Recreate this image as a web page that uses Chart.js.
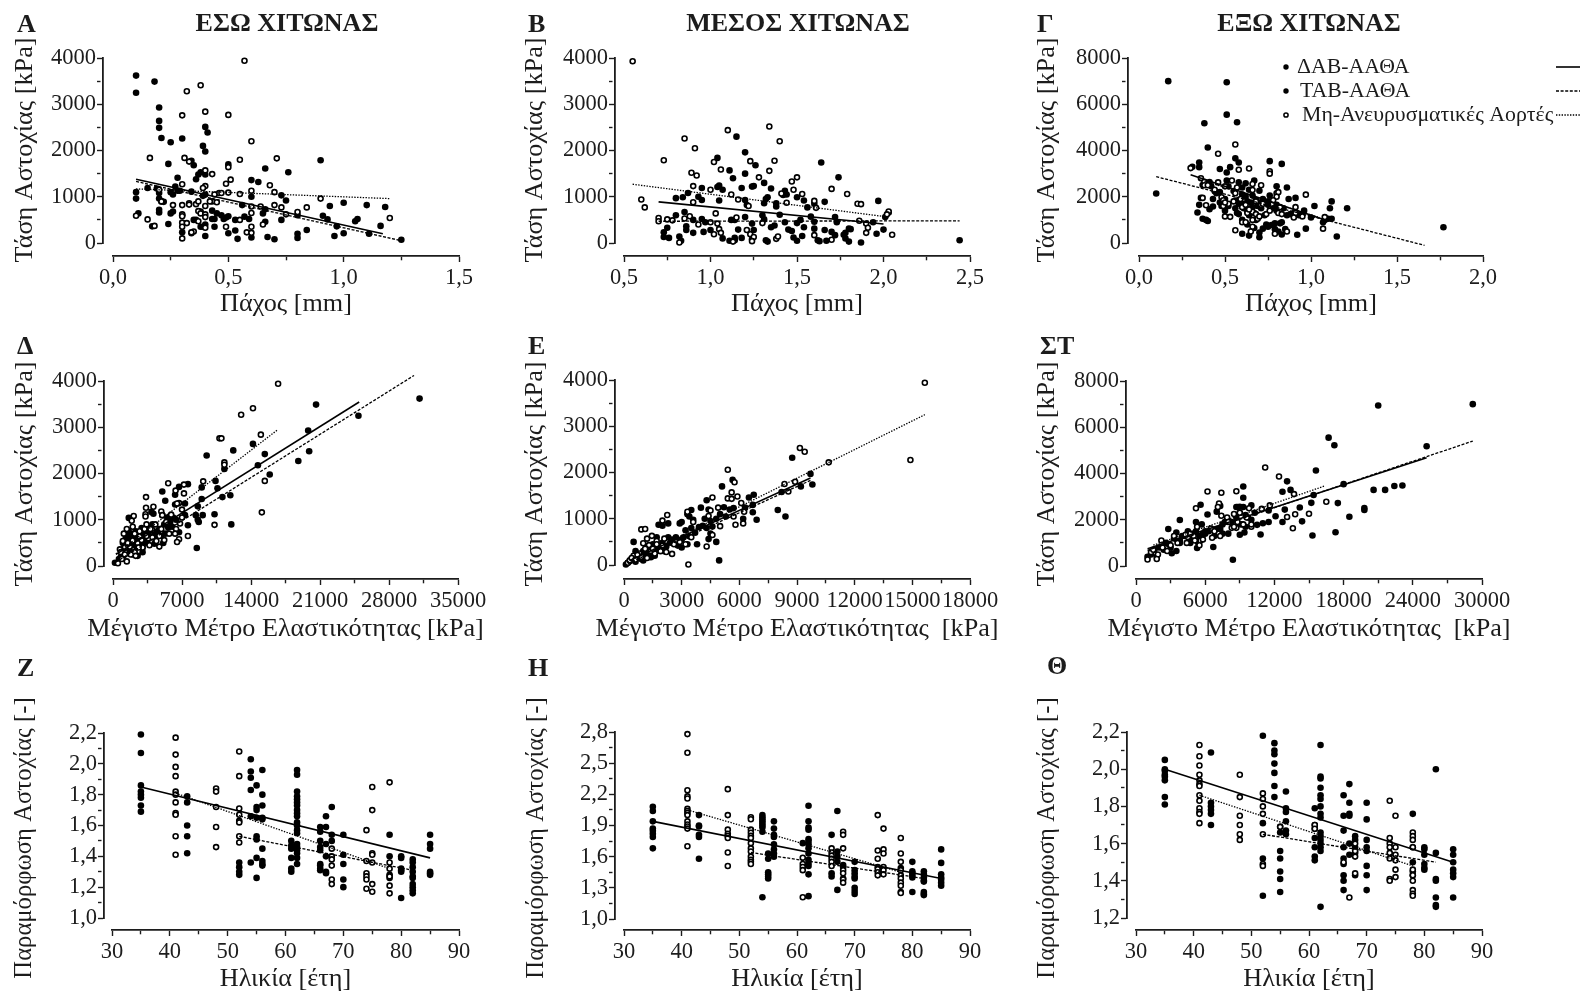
<!DOCTYPE html>
<html lang="el">
<head>
<meta charset="utf-8">
<title>Αντοχή αορτικού τοιχώματος</title>
<script src="https://cdn.jsdelivr.net/npm/chart.js@4/dist/chart.umd.js"></script>
<style>
  html, body { margin: 0; padding: 0; background: #fff; overflow: hidden; }
  #page { position: relative; width: 1583px; height: 991px; }
  canvas { position: absolute; }
</style>
</head>
<body>
<div id="page"></div>
<script>
// ΔΑΒ and ΤΑΒ dots look the same in the picture, so they are kept together as "filled"
const seriesNames = ['ΔΑΒ-ΑΑΘΑ', 'ΤΑΒ-ΑΑΘΑ', 'Μη-Ανευρυσματικές Αορτές'];

// A: inner layer, thickness vs stress
const innerThickFilled = [[0.10,3620],[0.10,3250],[0.18,3490],[0.20,2930],[0.20,2640],[0.20,2490],[0.21,2270],[0.25,2180],[0.30,2260],[0.24,1710],[0.34,1780],[0.35,1680],[0.36,1380],[0.37,1480],[0.38,1530],[0.28,1410],[0.27,1220],[0.25,1100],[0.26,1050],[0.28,1130],[0.29,1130],[0.34,1110],[0.10,1100],[0.10,960],[0.15,1190],[0.19,1180],[0.20,1080],[0.20,960],[0.21,900],[0.22,890],[0.20,720],[0.20,660],[0.11,640],[0.17,360],[0.24,410],[0.25,640],[0.26,680],[0.30,600],[0.30,230],[0.34,210],[0.35,500],[0.36,500],[0.38,350],[0.39,350],[0.40,400],[0.40,150],[0.39,2100],[0.40,1980],[0.40,2510],[0.41,2390],[0.40,1480],[0.40,1050],[0.39,1020],[0.43,700],[0.43,520],[0.44,520],[0.45,640],[0.44,350],[0.47,600],[0.48,520],[0.49,550],[0.50,580],[0.50,1700],[0.50,210],[0.53,500],[0.53,270],[0.54,90],[0.56,820],[0.57,570],[0.59,520],[0.60,1360],[0.60,1000],[0.60,120],[0.63,1320],[0.65,640],[0.66,1610],[0.66,730],[0.66,460],[0.67,130],[0.70,80],[0.73,1030],[0.75,920],[0.76,1530],[0.73,500],[0.80,600],[0.80,200],[0.80,110],[0.84,280],[0.90,1790],[0.91,590],[0.93,510],[0.94,800],[0.97,360],[0.96,150],[1.00,870],[1.00,210],[1.05,470],[1.06,520],[1.10,820],[1.11,200],[1.16,370],[1.18,780],[1.25,70]];
const innerThickOpen = [[0.57,3940],[0.38,3410],[0.32,3280],[0.40,2840],[0.30,2760],[0.50,2770],[0.60,2200],[0.16,1840],[0.31,1840],[0.33,1760],[0.55,1800],[0.71,1830],[0.40,1570],[0.50,1640],[0.43,1490],[0.51,1370],[0.49,1280],[0.30,1270],[0.40,1230],[0.39,1190],[0.60,1130],[0.68,1250],[0.70,1100],[0.55,1060],[0.50,1090],[0.46,1080],[0.47,1080],[0.90,960],[0.20,1150],[0.21,900],[0.26,820],[0.30,820],[0.33,860],[0.33,830],[0.36,840],[0.37,900],[0.43,900],[0.45,880],[0.40,800],[0.60,790],[0.64,790],[0.70,820],[0.73,770],[0.84,770],[0.80,670],[0.75,620],[0.60,650],[0.38,680],[0.37,690],[0.38,640],[0.40,620],[0.10,590],[0.30,620],[0.30,580],[0.15,510],[0.30,440],[0.32,430],[0.37,470],[0.40,560],[0.30,350],[0.18,370],[0.30,100],[0.35,250],[0.34,230],[0.40,330],[0.49,350],[0.55,500],[0.58,230],[0.60,350],[0.60,220],[0.65,400],[1.20,540],[0.44,1050],[0.42,900]];
const innerThickLines = [[[0.10,1380],[1.17,200]], [[0.10,1330],[1.25,50]], [[0.10,1170],[1.20,960]]];

// B: media, thickness vs stress
const mediaThickFilled = [[1.15,2300],[1.20,1960],[1.04,1840],[1.11,1570],[1.20,1500],[1.13,1400],[1.26,1680],[1.64,1740],[1.74,1420],[1.05,1240],[1.04,1210],[1.07,1150],[0.95,1190],[1.18,1190],[1.24,1220],[1.25,1230],[1.31,1300],[1.35,1180],[1.43,1130],[1.44,1050],[1.42,1040],[0.87,1080],[0.80,970],[0.84,990],[0.93,1000],[0.95,930],[1.05,920],[1.20,930],[1.21,820],[1.32,950],[1.33,990],[1.31,860],[1.38,860],[1.38,790],[1.50,990],[1.54,920],[1.56,770],[1.60,850],[1.66,890],[1.97,910],[2.03,660],[2.01,560],[0.80,600],[0.85,670],[0.90,500],[0.95,520],[0.97,450],[1.00,280],[0.73,230],[0.73,130],[0.75,330],[0.76,110],[0.82,140],[0.83,50],[0.86,360],[0.86,280],[0.90,220],[0.96,240],[1.07,100],[1.11,50],[1.14,110],[1.14,60],[1.16,290],[1.18,110],[1.20,560],[1.12,500],[1.14,500],[1.24,420],[1.25,280],[1.24,80],[1.30,600],[1.31,510],[1.32,60],[1.33,30],[1.35,340],[1.37,380],[1.40,610],[1.43,450],[1.45,290],[1.47,260],[1.48,120],[1.50,430],[1.50,50],[1.52,500],[1.53,150],[1.54,340],[1.58,570],[1.60,310],[1.60,460],[1.62,60],[1.63,40],[1.66,280],[1.67,50],[1.70,240],[1.72,170],[1.72,560],[1.73,450],[1.77,180],[1.78,220],[1.78,100],[1.80,310],[1.81,300],[1.80,30],[1.87,10],[1.96,200],[2.00,290],[1.94,450],[2.44,60]];
const mediaThickOpen = [[0.55,3930],[1.34,2520],[1.10,2440],[0.85,2260],[1.40,2200],[0.91,2050],[0.73,1790],[1.02,1750],[1.23,1770],[1.37,1780],[1.06,1590],[0.89,1520],[0.92,1460],[1.34,1560],[1.28,1420],[1.50,1420],[1.47,1330],[0.90,1230],[1.00,1150],[1.48,1150],[1.53,1060],[1.70,1170],[1.79,1060],[1.41,1070],[1.12,1050],[1.16,940],[0.90,880],[0.60,940],[0.62,770],[1.44,870],[1.22,800],[1.60,910],[1.61,760],[1.85,850],[1.87,840],[2.03,680],[2.02,620],[1.03,640],[0.70,540],[0.70,470],[0.75,510],[0.85,530],[0.88,580],[0.78,490],[0.93,400],[1.00,450],[1.04,420],[1.05,300],[1.06,220],[1.02,190],[1.15,550],[1.21,280],[1.23,190],[1.30,430],[1.25,130],[1.38,90],[1.39,140],[1.60,170],[1.70,70],[1.86,480],[1.90,420],[1.91,330],[1.90,220],[2.05,180],[0.82,10],[1.13,30],[1.24,40]];
const mediaThickLines = [[[0.70,890],[2.00,410]], [[0.70,470],[2.44,480]], [[0.55,1270],[2.03,560]]];

// Γ: outer layer, thickness vs stress
const outerThickFilled = [[0.17,7000],[0.51,6950],[0.51,5550],[0.57,5220],[0.38,5180],[0.40,4130],[0.56,3660],[0.58,3480],[0.35,3480],[0.35,3280],[0.31,3300],[0.47,3200],[0.53,3280],[0.51,3050],[0.76,3540],[0.83,3420],[0.10,2140],[0.37,2510],[0.41,2640],[0.44,2240],[0.43,1900],[0.36,1950],[0.35,1650],[0.34,1320],[0.37,1050],[0.39,1000],[0.40,950],[0.41,1460],[0.43,1580],[0.48,1600],[0.50,1900],[0.51,2700],[0.52,2450],[0.50,1400],[0.52,1600],[0.56,1840],[0.58,2630],[0.60,2400],[0.62,2580],[0.60,1700],[0.60,2100],[0.63,1800],[0.65,1500],[0.67,2700],[0.66,2050],[0.68,1850],[0.70,2260],[0.72,1900],[0.75,1800],[0.76,2050],[0.80,2450],[0.86,2400],[0.87,1900],[0.91,1950],[0.96,1400],[0.90,1300],[1.02,1600],[1.12,1800],[1.11,1500],[1.21,1500],[1.12,1050],[1.10,1050],[1.07,900],[0.97,620],[1.15,280],[0.92,360],[0.83,370],[0.85,600],[0.82,850],[0.79,600],[0.77,780],[0.72,620],[0.70,250],[0.70,450],[0.64,320],[0.60,400],[0.57,1300],[0.58,1250],[0.63,1350],[0.66,1550],[0.68,1000],[0.83,900],[0.86,1200],[0.80,1400],[0.75,1650],[1.77,680],[0.45,2150],[0.47,1750],[0.55,2250],[0.56,1500],[0.58,1700],[0.61,1500],[0.62,2000],[0.64,1200],[0.64,2300],[0.65,1750],[0.67,1300],[0.69,1600],[0.70,1750],[0.71,1500],[0.73,1200],[0.74,800],[0.78,1500],[0.80,1650],[0.81,500],[0.84,1500],[0.88,1250],[0.93,1200],[0.95,1250],[1.00,1100],[1.08,1000],[0.60,1000],[0.63,800],[0.67,650],[0.75,700],[0.79,850],[0.42,2450],[0.47,2200]];
const outerThickOpen = [[0.56,4260],[0.46,3860],[0.58,3170],[0.64,3220],[0.30,3240],[0.76,3100],[0.76,3000],[0.36,2800],[0.38,2650],[0.38,2500],[0.46,2620],[0.50,2450],[0.54,2700],[0.57,2400],[0.66,2550],[0.71,2500],[0.66,2290],[0.97,2090],[0.80,2150],[0.81,2200],[0.80,2000],[0.37,1950],[0.48,1980],[0.39,1630],[0.49,1850],[0.52,1700],[0.49,1600],[0.50,1150],[0.53,1130],[0.56,2150],[0.60,1550],[0.63,1300],[0.66,1350],[0.71,1650],[0.74,1250],[0.76,1400],[0.81,1300],[0.83,1250],[0.91,1550],[0.91,1300],[0.90,1100],[0.95,1150],[0.68,1250],[0.66,1000],[0.60,900],[0.62,900],[0.69,1050],[0.56,550],[0.66,700],[0.65,500],[0.79,400],[0.86,500],[1.07,620],[1.08,1120],[0.40,2500],[0.44,2300],[0.50,1750],[0.55,1800],[0.59,1900],[0.62,1650],[0.64,1450],[0.68,1800],[0.70,1150],[0.72,1700],[0.78,1850],[0.82,1550]];
const outerThickLines = [[[0.30,2950],[1.10,950]], [[0.10,2870],[1.66,-100]], [[0.35,2750],[1.05,1100]]];

// Δ: inner layer, max modulus vs stress
const innerModFilled = [[31100,3620],[24900,3250],[20600,3490],[19800,2930],[19900,2480],[18800,2270],[14200,2640],[15400,2420],[14700,2180],[15900,1980],[12200,2500],[9500,2390],[11300,2100],[10400,1840],[10600,1680],[11100,1490],[11900,1530],[12000,900],[10300,1120],[9000,1450],[9000,1700],[7600,1770],[6700,1710],[6300,1540],[5000,1610],[5300,1410],[8600,1290],[8400,1100],[8600,1000],[9100,1100],[8700,950],[7300,1100],[7300,1350],[6300,1330],[7600,880],[8500,390],[1600,1040],[3900,1170],[5000,1100],[4100,1130],[5500,1050],[6100,1050],[5200,900],[5600,830],[6700,730],[5100,500],[1300,600],[1500,650],[1800,580],[2000,690],[2200,500],[2500,600],[2800,680],[3000,620],[3300,580],[3500,830],[4200,730],[4500,650],[4700,800],[1000,500],[1300,450],[1700,330],[2000,250],[2500,220],[3000,400],[3500,500],[4200,480],[200,70],[800,200],[1100,380],[600,150],[900,300],[1200,550],[1500,400],[1600,750],[1900,450],[2100,600],[2300,750],[2400,400],[2700,500],[2900,820],[3100,500],[3300,700],[3600,700],[3800,620],[4000,900],[4300,600],[4600,750],[4900,650],[5300,700],[5800,950],[6000,850],[6400,1000],[3000,300],[1000,200]];
const innerModOpen = [[16750,3940],[14200,3410],[13000,3270],[15000,2840],[10800,2760],[11000,2760],[11300,2240],[11300,2190],[9150,1830],[5600,1790],[7200,1760],[7200,1570],[6350,1630],[15400,1840],[15100,1160],[10300,890],[7600,650],[3350,1490],[3350,1260],[4100,1280],[3300,1120],[3300,1070],[2100,1080],[4900,1180],[6700,1360],[6500,1350],[7000,1220],[5000,1100],[1400,800],[1900,980],[2000,850],[2700,750],[3200,800],[3400,900],[3600,600],[4000,620],[4400,540],[4700,420],[5200,560],[5700,700],[6400,800],[6700,580],[6500,520],[6300,700],[6800,920],[7000,1050],[5900,1110],[4900,800],[1000,540],[700,360],[800,300],[1200,250],[1400,100],[500,60],[1700,420],[2000,550],[2200,300],[2300,220],[2500,500],[3000,400],[2700,640],[3700,450],[4000,780],[1200,400],[900,150],[1100,700],[1500,500],[1800,250],[2200,700],[2600,400],[2900,560],[3400,650],[3800,800],[4300,900],[4700,650],[5400,950]];
const innerModLines = [[[300,250],[24975,3545]], [[300,85],[30540,4120]], [[300,260],[16670,2940]]];

// E: media, max modulus vs stress
const mediaModFilled = [[8750,2320],[9700,1970],[9800,1740],[9200,1700],[8200,1580],[8000,1190],[8400,1050],[6900,980],[6700,1140],[6700,1300],[6750,1520],[6500,1460],[5650,1840],[5100,1700],[4300,1400],[4000,1240],[3500,1190],[3300,1100],[5200,1250],[5700,1230],[6300,1240],[6200,1000],[4400,1200],[3000,930],[2900,900],[3400,1050],[3600,980],[4100,850],[4300,800],[4500,950],[4800,1000],[3500,800],[3200,750],[2000,850],[1800,870],[2300,900],[4500,680],[4800,500],[4950,100],[4400,560],[3800,450],[3000,550],[3000,380],[3300,450],[2400,480],[2200,400],[1700,600],[1500,450],[1700,300],[1300,250],[1000,300],[500,500],[800,150],[100,10],[200,50],[300,80],[600,70],[1000,100],[1400,170],[1900,350],[2300,600],[400,120],[700,200],[900,130],[1100,250],[1300,380],[1600,200],[1800,400],[2000,480],[2100,300],[2500,550],[2700,600],[2800,420],[3100,600],[3400,620],[3700,700],[3900,820],[4200,1000],[4600,830],[5000,1100],[5300,1050],[5500,1200],[600,300],[1200,400]];
const mediaModOpen = [[15650,3940],[14900,2270],[9150,2530],[9400,2450],[10650,2220],[5400,2060],[5750,1790],[8350,1750],[8900,1800],[8550,1590],[5600,1570],[5400,1440],[5600,1430],[5900,1480],[4600,1460],[6100,1340],[4900,1240],[4500,1180],[4400,1060],[5700,1050],[5800,870],[6200,900],[5000,840],[4600,650],[4300,400],[6250,1150],[3300,1150],[3600,930],[3350,10],[2250,1080],[2000,960],[900,770],[1100,780],[1200,570],[1450,630],[1000,470],[1300,430],[1700,520],[2100,570],[500,200],[800,250],[900,180],[1400,300],[1200,150],[1500,350],[1900,300],[2200,280],[2500,240],[2900,500],[3200,450],[3500,600],[200,50],[300,100],[1700,450],[400,150],[600,120],[700,220],[1100,350],[1600,250],[2000,420],[2600,450]];
const mediaModLines = [[[300,100],[9700,1880]], [[200,30],[9700,1830]], [[200,60],[15650,3250]]];

// ΣΤ: outer layer, max modulus vs stress
const outerModFilled = [[29200,7000],[21000,6940],[25200,5180],[16700,5550],[17200,5220],[15600,4130],[13100,3660],[9300,3440],[12700,3210],[13400,3290],[18000,3540],[20600,3290],[21600,3290],[22400,3460],[23100,3480],[15400,3070],[9300,2950],[5600,2650],[6200,2230],[3800,1990],[7000,2350],[7300,2600],[10000,2620],[8800,2550],[9300,2550],[15200,2730],[17500,2720],[14200,2530],[19800,2510],[19800,2420],[18500,2130],[14400,1930],[12900,2440],[12700,1900],[12100,2150],[11500,1900],[11000,1850],[15300,1320],[17300,1460],[10800,1360],[6700,820],[8400,270],[2800,1600],[3500,1450],[5200,1900],[5700,1800],[10500,1780],[9700,2100],[9000,2300],[9500,1700],[9000,1350],[9400,1450],[7500,1800],[7000,1600],[6000,1500],[5200,1500],[4500,1500],[4000,1300],[5300,780],[3500,650],[3100,550],[1000,400],[2800,950],[2000,800],[3800,1100],[4800,1200],[5500,1300],[5800,1400],[6500,1600],[7500,1400],[8000,1400],[11500,2400],[1300,500],[1600,700],[1800,400],[2400,700],[2600,1000],[3000,800],[3300,1200],[3800,1000],[4200,1300],[4700,1000],[5000,1400],[5400,1000],[5600,1200],[6300,1500],[6800,1300],[7300,1600],[7700,1900],[8300,1900],[8700,2100],[9100,1800],[9500,2200],[10000,2000],[10300,2300],[8700,2550],[9000,2560],[6000,1400]];
const outerModOpen = [[11200,4260],[12400,3870],[13700,3110],[6200,3220],[7400,3170],[8700,3230],[7200,2700],[7100,2550],[5200,2500],[10900,2470],[11600,2620],[9800,2500],[9000,2300],[8500,2250],[7400,2170],[7900,2100],[16500,2780],[15000,2260],[13800,2240],[13100,2120],[13600,1630],[10000,1700],[8800,1900],[8300,1650],[8700,1650],[10000,1800],[6500,1620],[6600,1220],[5300,1700],[5000,1300],[4500,1250],[5600,1100],[4400,1000],[5500,900],[2200,1100],[3300,1300],[3000,900],[2700,650],[1900,500],[1800,300],[1000,280],[1300,600],[1500,700],[2300,800],[3600,1000],[4300,1350],[4700,1400],[5100,1100],[5800,1150],[6800,1500],[7300,1300],[8000,1900],[8500,1700],[9300,1800],[9600,2100]];
const outerModLines = [[[1000,750],[25200,4680]], [[1000,680],[29200,5400]], [[1500,900],[16300,3450]]];

// age panels, one row per age: [age, [strain values]]
const innerAgeFilled = [[35,[2.19,2.07,1.86,1.82,1.80,1.78,1.73,1.69]],[43,[1.79,1.75,1.60,1.53,1.42]],[52,[1.36,1.33,1.30,1.28]],[54,[2.03,1.95,1.91,1.83,1.66,1.36]],[55,[1.86,1.72,1.70,1.65,1.53,1.51,1.39,1.26]],[56,[1.96,1.80,1.73,1.65,1.64,1.45,1.37,1.35,1.34]],[61,[1.50,1.47,1.45,1.39,1.32,1.30]],[62,[1.96,1.93,1.82,1.79,1.77,1.75,1.73,1.70,1.68,1.66,1.62,1.60,1.57,1.55,1.48,1.46,1.44,1.42,1.39,1.35]],[66,[1.59,1.56,1.50,1.46,1.44,1.35,1.34,1.32,1.31]],[67,[1.66,1.59,1.48,1.40,1.30,1.29]],[68,[1.72,1.54,1.50]],[70,[1.54,1.41,1.35,1.25,1.20]],[78,[1.54,1.40,1.28,1.26]],[80,[1.40,1.39,1.32,1.31,1.30,1.13]],[82,[1.38,1.36,1.33,1.30,1.27,1.26,1.22,1.20,1.18,1.16]],[85,[1.54,1.48,1.45,1.30,1.29,1.28]]];
const innerAgeOpen = [[41,[2.17,2.06,1.98,1.92,1.82,1.80,1.75,1.68,1.67,1.53,1.41]],[48,[1.84,1.82,1.72,1.59,1.46]],[52,[2.08,1.92,1.71,1.67,1.63,1.62,1.53,1.49]],[68,[1.45,1.40,1.38,1.34,1.25,1.22]],[74,[1.57,1.37,1.29,1.27,1.25,1.19]],[75,[1.85,1.70,1.42,1.41,1.36,1.22,1.17]],[78,[1.88,1.36,1.32,1.27,1.21,1.16]]];
const innerAgeLines = [[[35,1.85],[85,1.39]], [[52,1.53],[82,1.31]], [[41,1.81],[78,1.32]]];

const mediaAgeFilled = [[35,[2.08,2.04,1.94,1.87,1.85,1.82,1.79,1.68]],[43,[2.00,1.90,1.89,1.81,1.79,1.58]],[54,[2.00,1.98,1.96,1.94,1.92,1.90,1.88,1.84,1.21]],[55,[1.63,1.58,1.45,1.43,1.41,1.39]],[56,[1.94,1.87,1.81,1.79,1.72,1.67,1.63,1.60]],[61,[1.73]],[62,[2.09,1.94,1.88,1.86,1.77,1.75,1.72,1.68,1.63,1.57,1.54,1.51,1.43,1.22]],[66,[1.81,1.44,1.41]],[67,[2.04,1.65,1.60,1.55,1.28]],[68,[1.52,1.50,1.39]],[70,[1.55,1.47,1.44,1.41,1.39,1.30,1.27,1.24]],[78,[1.49]],[80,[1.55,1.46,1.44,1.42,1.40,1.26]],[82,[1.46,1.43,1.40,1.37,1.36,1.26,1.24,1.23]],[85,[1.67,1.54,1.43,1.40,1.38,1.35,1.32]]];
const mediaAgeOpen = [[41,[2.78,2.60,2.24,2.18,2.16,2.06,2.04,2.02,2.00,1.94,1.91,1.89,1.87,1.70]],[48,[2.25,2.00,1.86,1.82,1.80,1.78,1.64,1.51]],[52,[1.98,1.96,1.86,1.83,1.80,1.78,1.73,1.68,1.65,1.60,1.57,1.55,1.53]],[61,[1.59,1.53,1.50,1.47,1.21]],[66,[1.68,1.64,1.61,1.58,1.55,1.51]],[68,[1.84,1.81,1.68,1.47,1.44,1.38,1.35]],[74,[2.00,1.66,1.58,1.50,1.48,1.45,1.42]],[75,[1.87,1.67,1.63,1.50,1.47,1.43]],[78,[1.78,1.63,1.55,1.47,1.42,1.39,1.35,1.32,1.26,1.25]]];
const mediaAgeLines = [[[35,1.94],[85,1.39]], [[52,1.64],[82,1.39]], [[41,2.05],[78,1.45]]];

const outerAgeFilled = [[35,[2.05,2.00,1.99,1.97,1.96,1.94,1.85,1.81]],[43,[2.09,1.82,1.80,1.78,1.76,1.70]],[52,[2.18,1.71,1.52,1.32]],[54,[2.14,2.10,2.08,2.03,1.98,1.91,1.85]],[55,[1.69,1.66,1.56,1.52,1.45,1.41,1.34]],[56,[1.88,1.79,1.77,1.72,1.67,1.65]],[61,[1.79,1.70,1.68,1.63,1.58,1.53,1.51]],[62,[2.13,1.96,1.95,1.90,1.86,1.84,1.80,1.76,1.74,1.66,1.64,1.62,1.60,1.58,1.56,1.26]],[66,[1.86,1.75,1.67,1.58,1.52,1.49,1.43,1.40,1.35]],[67,[1.92,1.82,1.76,1.75,1.60,1.54]],[68,[1.64,1.62,1.58,1.55,1.43]],[70,[1.82,1.73,1.62,1.58,1.56,1.48,1.43,1.35]],[78,[1.76,1.58,1.50,1.45,1.43]],[80,[1.58,1.57,1.54,1.49,1.47,1.46]],[82,[2.00,1.55,1.41,1.40,1.31,1.27,1.26]],[85,[1.57,1.54,1.50,1.46,1.44,1.42,1.31]]];
const outerAgeOpen = [[41,[2.13,2.07,2.02,1.97,1.94,1.92,1.91,1.86,1.83,1.79,1.77,1.76,1.71]],[48,[1.97,1.85,1.75,1.70,1.65,1.62]],[52,[1.87,1.84,1.80,1.76,1.65,1.49,1.48]],[55,[1.69]],[61,[1.70,1.68]],[66,[1.50]],[67,[1.31]],[68,[1.60,1.56,1.53,1.44]],[74,[1.83,1.63,1.60,1.58,1.55,1.52,1.41,1.40]],[75,[1.75,1.58,1.54,1.51,1.46,1.42]],[78,[1.66,1.64,1.62,1.58,1.46,1.43,1.40,1.35,1.33,1.32]]];
const outerAgeLines = [[[35,2.00],[85,1.50]], [[52,1.65],[82,1.50]], [[41,1.86],[78,1.48]]];

const stressTitle = 'Τάση Αστοχίας [kPa]';
const strainTitle = 'Παραμόρφωση Αστοχίας [-]';
const thickTitle = 'Πάχος [mm]';
const ageTitle = 'Ηλικία [έτη]';

const INK = '#1c1c1c';
const SERIF = '"Liberation Serif", "Times New Roman", serif';
const lineDash = [[], [3, 1.6], [1.4, 1.4]];

function byAge(rows) {
  return rows.flatMap(([age, vals]) => vals.map(v => [age, v]));
}

// shift the drawn axes away from the data box, the way the original graph has them
const offsetAxes = {
  id: 'offsetAxes',
  afterLayout(chart) {
    chart.scales.y.right -= chart.options.plugins.offsetAxes.gapY;
    chart.scales.x.top += chart.options.plugins.offsetAxes.gapX;
  }
};

// panel letter, column heading, axis titles and (panel Γ only) the legend.
// the scale title option squeezes long text to the axis width, so titles go here
const panelText = {
  id: 'panelText',
  afterDraw(chart, args, o) {
    const ctx = chart.ctx;
    ctx.save();
    ctx.fillStyle = INK;
    ctx.textBaseline = 'middle';
    ctx.font = 'bold 26px ' + SERIF;
    ctx.textAlign = 'left';
    ctx.fillText(o.letter, o.letterX, o.letterY);
    ctx.textAlign = 'center';
    if (o.heading) {
      ctx.fillText(o.heading, o.headingX, 24);
    }
    ctx.font = '26.2px ' + SERIF;
    ctx.fillText(o.xTitle, (chart.chartArea.left + chart.chartArea.right) / 2, o.xTitleY);
    ctx.font = o.yTitleSize + 'px ' + SERIF;
    ctx.save();
    ctx.translate(o.yTitleX, o.yTitleY);
    ctx.rotate(-Math.PI / 2);
    ctx.fillText(o.yTitle, 0, 0);
    ctx.restore();
    if (o.legend) {
      const rows = [[67, 281], [91, 284], [115, 286]];
      ctx.font = '21.8px ' + SERIF;
      ctx.textAlign = 'left';
      seriesNames.forEach((name, i) => {
        const [y, textX] = rows[i];
        ctx.beginPath();
        ctx.setLineDash([]);
        ctx.lineWidth = 1.5;
        ctx.strokeStyle = '#000';
        if (i < 2) {
          ctx.fillStyle = '#000';
          ctx.arc(270, y, 2.7, 0, Math.PI * 2);
          ctx.fill();
        } else {
          ctx.fillStyle = '#fff';
          ctx.arc(270, y, 2.1, 0, Math.PI * 2);
          ctx.fill();
          ctx.stroke();
        }
        ctx.fillStyle = INK;
        ctx.fillText(name, textX, y);
        ctx.beginPath();
        ctx.lineWidth = i === 0 ? 1.6 : 1.3;
        ctx.setLineDash(lineDash[i]);
        ctx.moveTo(540, y);
        ctx.lineTo(564, y);
        ctx.stroke();
      });
    }
    ctx.restore();
  }
};

function makePanel(p) {
  const page = document.getElementById('page');
  const canvas = document.createElement('canvas');
  canvas.width = p.box[2];
  canvas.height = p.box[3];
  canvas.style.left = p.box[0] + 'px';
  canvas.style.top = p.box[1] + 'px';
  canvas.style.width = p.box[2] + 'px';
  canvas.style.height = p.box[3] + 'px';
  page.appendChild(canvas);

  const left = p.area[0] - p.box[0];
  const top = p.area[1] - p.box[1];
  const right = p.box[2] - (p.area[2] - p.box[0]);
  const bottom = p.box[3] - (p.area[3] - p.box[1]);

  const datasets = [
    { label: seriesNames[0] + ' / ' + seriesNames[1], data: p.filled, order: 4, clip: false, showLine: false,
      pointRadius: 3.3, pointBackgroundColor: '#000', pointBorderWidth: 0 },
    { label: seriesNames[2], data: p.open, order: 3, clip: false, showLine: false,
      pointRadius: 2.5, pointBackgroundColor: '#fff', pointBorderColor: '#000', pointBorderWidth: 1.6 }
  ];
  p.lines.forEach((pts, i) => {
    datasets.push({ label: seriesNames[i] + ' fit', data: pts, order: 2 - i, clip: false, showLine: true,
      pointRadius: 0, borderColor: '#000', borderWidth: i === 0 ? 1.6 : 1.3, borderDash: lineDash[i] });
  });

  const tickFont = { family: SERIF, size: 22.5 };
  // labels sit on whole multiples of the major step counted from the axis minimum
  const isMinor = (s, v) => {
    const r = (v - s.min) / s.major;
    return Math.abs(r - Math.round(r)) > 1e-6;
  };
  const tick = s => v => {
    if (isMinor(s, v)) return '';
    return s.digits ? v.toFixed(s.digits).replace('.', ',') : String(v);
  };
  const minorDash = s => c => (c.tick && isMinor(s, c.tick.value) ? [3.5, 20] : []);
  const scaleBase = (s) => ({
    type: 'linear', min: s.min, max: s.max,
    grid: { drawOnChartArea: false, drawTicks: true, tickLength: 6, tickWidth: 1.4, tickColor: INK, tickBorderDash: minorDash(s) },
    border: { display: true, color: INK, width: 1.8 }
  });

  new Chart(canvas, {
    type: 'scatter',
    data: { datasets },
    plugins: [offsetAxes, panelText],
    options: {
      responsive: false,
      animation: false,
      events: [],
      layout: { padding: { left: 0, top, right, bottom: 0 } },
      scales: {
        x: Object.assign(scaleBase(p.x), {
          afterFit: s => { s.height = bottom; },
          ticks: { stepSize: p.x.major / 2, autoSkip: false, maxRotation: 0, padding: 3, color: INK, font: tickFont,
            callback: tick(p.x) }
        }),
        y: Object.assign(scaleBase(p.y), {
          afterFit: s => { s.width = left; },
          ticks: { stepSize: p.y.major / 2, autoSkip: false, padding: 1, color: INK, font: tickFont,
            callback: tick(p.y) }
        })
      },
      plugins: {
        legend: { display: false },
        tooltip: { enabled: false },
        offsetAxes: { gapX: p.axisY - p.area[3], gapY: p.area[0] - p.axisX },
        panelText: {
          letter: p.letter, letterX: p.letterPos[0] - p.box[0], letterY: p.letterPos[1] - p.box[1],
          heading: p.heading, headingX: p.headingX - p.box[0],
          xTitle: p.xTitle, xTitleY: p.xTitleY - p.box[1],
          yTitle: p.yTitle, yTitleSize: p.yTitleSize, yTitleX: p.yTitleX - p.box[0], yTitleY: p.yTitleY - p.box[1],
          legend: !!p.legend
        }
      }
    }
  });
}

const panels = [
  { letter: 'Α', letterPos: [17, 25], heading: 'ΕΣΩ ΧΙΤΩΝΑΣ', headingX: 287,
    box: [0, 0, 508, 325], area: [113, 58, 459, 243], axisX: 103, axisY: 256,
    x: { min: 0, max: 1.5, major: 0.5, digits: 1 }, y: { min: 0, max: 4000, major: 1000, digits: 0 },
    filled: innerThickFilled, open: innerThickOpen, lines: innerThickLines,
    xTitle: thickTitle, xTitleY: 304, yTitle: stressTitle, yTitleSize: 26.2, yTitleX: 25, yTitleY: 150 },
  { letter: 'Β', letterPos: [528, 25], heading: 'ΜΕΣΟΣ ΧΙΤΩΝΑΣ', headingX: 798,
    box: [508, 0, 508, 325], area: [624, 58, 970, 243], axisX: 615, axisY: 256,
    x: { min: 0.5, max: 2.5, major: 0.5, digits: 1 }, y: { min: 0, max: 4000, major: 1000, digits: 0 },
    filled: mediaThickFilled, open: mediaThickOpen, lines: mediaThickLines,
    xTitle: thickTitle, xTitleY: 304, yTitle: stressTitle, yTitleSize: 26.2, yTitleX: 535, yTitleY: 150 },
  { letter: 'Γ', letterPos: [1037, 25], heading: 'ΕΞΩ ΧΙΤΩΝΑΣ', headingX: 1309, legend: true,
    box: [1016, 0, 567, 325], area: [1139, 58, 1483, 243], axisX: 1128, axisY: 256,
    x: { min: 0, max: 2, major: 0.5, digits: 1 }, y: { min: 0, max: 8000, major: 2000, digits: 0 },
    filled: outerThickFilled, open: outerThickOpen, lines: outerThickLines,
    xTitle: thickTitle, xTitleY: 304, yTitle: stressTitle, yTitleSize: 26.2, yTitleX: 1047, yTitleY: 150 },
  { letter: 'Δ', letterPos: [17, 347], box: [0, 325, 508, 320], area: [113, 381, 458, 566], axisX: 104, axisY: 579,
    x: { min: 0, max: 35000, major: 7000, digits: 0 }, y: { min: 0, max: 4000, major: 1000, digits: 0 },
    filled: innerModFilled, open: innerModOpen, lines: innerModLines,
    xTitle: 'Μέγιστο Μέτρο Ελαστικότητας [kPa]', xTitleY: 629, yTitle: stressTitle, yTitleSize: 26.2, yTitleX: 25, yTitleY: 474 },
  { letter: 'Ε', letterPos: [528, 347], box: [508, 325, 508, 320], area: [624, 380, 970, 565], axisX: 615, axisY: 579,
    x: { min: 0, max: 18000, major: 3000, digits: 0 }, y: { min: 0, max: 4000, major: 1000, digits: 0 },
    filled: mediaModFilled, open: mediaModOpen, lines: mediaModLines,
    xTitle: 'Μέγιστο Μέτρο Ελαστικότητας  [kPa]', xTitleY: 629, yTitle: stressTitle, yTitleSize: 26.2, yTitleX: 535, yTitleY: 474 },
  { letter: 'ΣΤ', letterPos: [1040, 347], box: [1016, 325, 567, 320], area: [1136, 381, 1482, 566], axisX: 1126, axisY: 579,
    x: { min: 0, max: 30000, major: 6000, digits: 0 }, y: { min: 0, max: 8000, major: 2000, digits: 0 },
    filled: outerModFilled, open: outerModOpen, lines: outerModLines,
    xTitle: 'Μέγιστο Μέτρο Ελαστικότητας  [kPa]', xTitleY: 629, yTitle: stressTitle, yTitleSize: 26.2, yTitleX: 1047, yTitleY: 474 },
  { letter: 'Ζ', letterPos: [17, 669], box: [0, 645, 508, 346], area: [112, 733, 459, 918], axisX: 104, axisY: 930,
    x: { min: 30, max: 90, major: 10, digits: 0 }, y: { min: 1, max: 2.2, major: 0.2, digits: 1 },
    filled: byAge(innerAgeFilled), open: byAge(innerAgeOpen), lines: innerAgeLines,
    xTitle: ageTitle, xTitleY: 979, yTitle: strainTitle, yTitleSize: 24.7, yTitleX: 25, yTitleY: 838 },
  { letter: 'Η', letterPos: [528, 669], box: [508, 645, 508, 346], area: [624, 732, 970, 919], axisX: 615, axisY: 930,
    x: { min: 30, max: 90, major: 10, digits: 0 }, y: { min: 1, max: 2.8, major: 0.3, digits: 1 },
    filled: byAge(mediaAgeFilled), open: byAge(mediaAgeOpen), lines: mediaAgeLines,
    xTitle: ageTitle, xTitleY: 979, yTitle: strainTitle, yTitleSize: 24.7, yTitleX: 537, yTitleY: 838 },
  { letter: 'Θ', letterPos: [1047, 667], box: [1016, 645, 567, 346], area: [1136, 732, 1482, 918], axisX: 1127, axisY: 930,
    x: { min: 30, max: 90, major: 10, digits: 0 }, y: { min: 1.2, max: 2.2, major: 0.2, digits: 1 },
    filled: byAge(outerAgeFilled), open: byAge(outerAgeOpen), lines: outerAgeLines,
    xTitle: ageTitle, xTitleY: 979, yTitle: strainTitle, yTitleSize: 24.7, yTitleX: 1048, yTitleY: 838 }
];

panels.forEach(makePanel);
</script>
</body>
</html>
